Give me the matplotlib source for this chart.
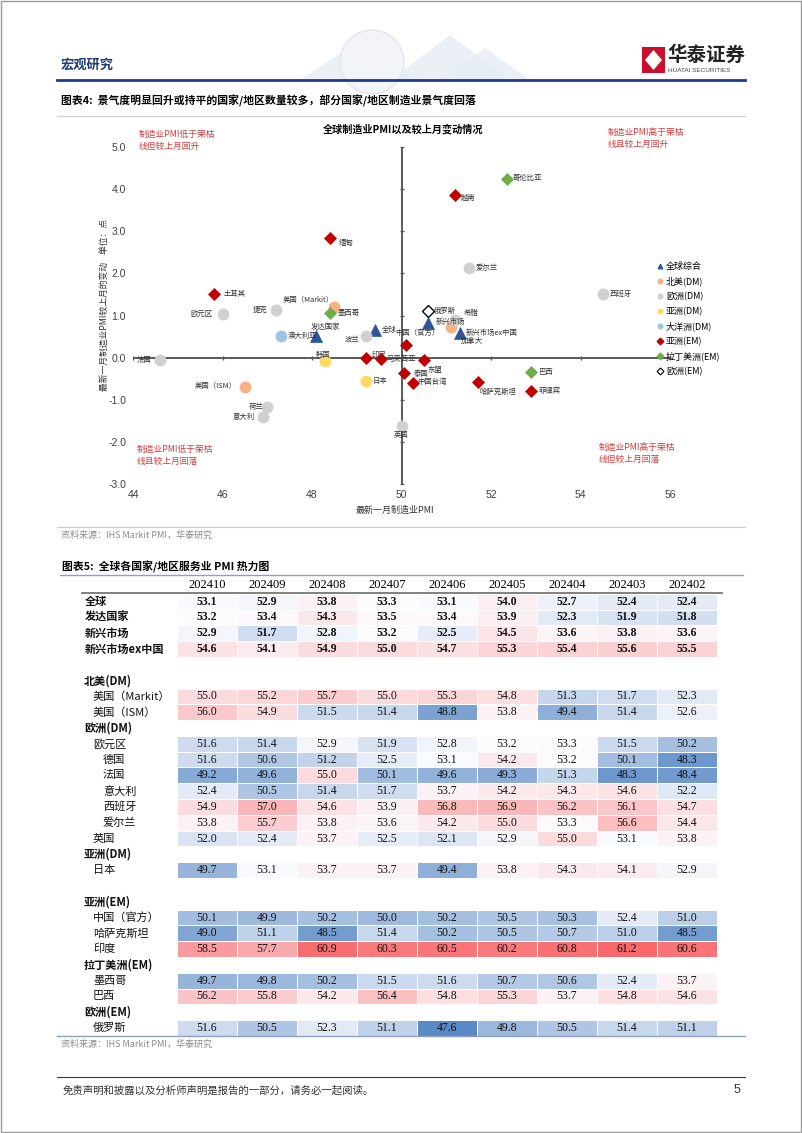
import numpy as np
import matplotlib
matplotlib.use('Agg')
import matplotlib.pyplot as plt
from matplotlib.colors import LinearSegmentedColormap, TwoSlopeNorm
from matplotlib.lines import Line2D
from matplotlib.patches import Rectangle, Polygon, Ellipse

plt.rcParams['font.family'] = ['Noto Sans CJK SC', 'DejaVu Sans']

# ---------------- scatter data (latest PMI, change vs last month) ----------------
global_names = ['全球', '发达国家', '新兴市场', '新兴市场ex中国']
global_x = [49.4, 48.1, 50.6, 51.3]
global_y = [0.66, 0.51, 0.83, 0.59]

na_names = ['美国（Markit）', '美国（ISM）', '加拿大']
na_x = [48.5, 46.5, 51.1]
na_y = [1.21, -0.70, 0.73]

eu_dm_names = ['欧元区', '捷克', '波兰', '爱尔兰', '西班牙', '法国', '荷兰', '意大利', '英国', '希腊']
eu_dm_x = [46.0, 47.2, 49.2, 51.5, 54.5, 44.6, 47.0, 46.9, 50.0, 51.2]
eu_dm_y = [1.03, 1.13, 0.51, 2.13, 1.51, -0.05, -1.18, -1.40, -1.62, 0.89]

asia_dm_names = ['日本', '韩国']
asia_dm_x = [49.2, 48.3]
asia_dm_y = [-0.55, -0.08]

oc_names = ['澳大利亚']
oc_x = [47.3]
oc_y = [0.51]

asia_em_names = ['土耳其', '缅甸', '越南', '中国（官方）', '印尼', '马来西亚', '泰国', '东盟',
                 '中国台湾', '哈萨克斯坦', '菲律宾']
asia_em_x = [45.8, 48.4, 51.2, 50.1, 49.2, 49.55, 50.05, 50.5, 50.25, 51.7, 52.9]
asia_em_y = [1.50, 2.83, 3.85, 0.30, 0.0, -0.03, -0.37, -0.05, -0.61, -0.59, -0.79]

latam_names = ['哥伦比亚', '墨西哥', '巴西']
latam_x = [52.35, 48.4, 52.9]
latam_y = [4.25, 1.07, -0.33]

eu_em_names = ['俄罗斯']
eu_em_x = [50.6]
eu_em_y = [1.11]

x_ticks = [44, 46, 48, 50, 52, 54, 56]
y_ticks = [-3, -2, -1, 0, 1, 2, 3, 4, 5]

# ---------------- heat map data (services PMI) ----------------
months = ['202410', '202409', '202408', '202407', '202406', '202405', '202404', '202403', '202402']
row_labels = ['全球', '发达国家', '新兴市场', '新兴市场ex中国', '',
              '北美(DM)', '美国（Markit）', '美国（ISM）',
              '欧洲(DM)', '欧元区', '德国', '法国', '意大利', '西班牙', '爱尔兰', '英国',
              '亚洲(DM)', '日本', '',
              '亚洲(EM)', '中国（官方）', '哈萨克斯坦', '印度',
              '拉丁美洲(EM)', '墨西哥', '巴西',
              '欧洲(EM)', '俄罗斯']
row_kind = ['top', 'top', 'top', 'top', 'blank',
            'sec', 'sub', 'sub',
            'sec', 'sub', 'sub2', 'sub2', 'sub2', 'sub2', 'sub2', 'sub',
            'sec', 'sub', 'blank',
            'sec', 'sub', 'sub', 'sub',
            'sec', 'sub', 'sub',
            'sec', 'sub']

pmi = {
    '全球':         [53.1, 52.9, 53.8, 53.3, 53.1, 54.0, 52.7, 52.4, 52.4],
    '发达国家':     [53.2, 53.4, 54.3, 53.5, 53.4, 53.9, 52.3, 51.9, 51.8],
    '新兴市场':     [52.9, 51.7, 52.8, 53.2, 52.5, 54.5, 53.6, 53.8, 53.6],
    '新兴市场ex中国': [54.6, 54.1, 54.9, 55.0, 54.7, 55.3, 55.4, 55.6, 55.5],
    '美国（Markit）': [55.0, 55.2, 55.7, 55.0, 55.3, 54.8, 51.3, 51.7, 52.3],
    '美国（ISM）':  [56.0, 54.9, 51.5, 51.4, 48.8, 53.8, 49.4, 51.4, 52.6],
    '欧元区':       [51.6, 51.4, 52.9, 51.9, 52.8, 53.2, 53.3, 51.5, 50.2],
    '德国':         [51.6, 50.6, 51.2, 52.5, 53.1, 54.2, 53.2, 50.1, 48.3],
    '法国':         [49.2, 49.6, 55.0, 50.1, 49.6, 49.3, 51.3, 48.3, 48.4],
    '意大利':       [52.4, 50.5, 51.4, 51.7, 53.7, 54.2, 54.3, 54.6, 52.2],
    '西班牙':       [54.9, 57.0, 54.6, 53.9, 56.8, 56.9, 56.2, 56.1, 54.7],
    '爱尔兰':       [53.8, 55.7, 53.8, 53.6, 54.2, 55.0, 53.3, 56.6, 54.4],
    '英国':         [52.0, 52.4, 53.7, 52.5, 52.1, 52.9, 55.0, 53.1, 53.8],
    '日本':         [49.7, 53.1, 53.7, 53.7, 49.4, 53.8, 54.3, 54.1, 52.9],
    '中国（官方）': [50.1, 49.9, 50.2, 50.0, 50.2, 50.5, 50.3, 52.4, 51.0],
    '哈萨克斯坦':   [49.0, 51.1, 48.5, 51.4, 50.2, 50.5, 50.7, 51.0, 48.5],
    '印度':         [58.5, 57.7, 60.9, 60.3, 60.5, 60.2, 60.8, 61.2, 60.6],
    '墨西哥':       [49.7, 49.8, 50.2, 51.5, 51.6, 50.7, 50.6, 52.4, 53.7],
    '巴西':         [56.2, 55.8, 54.2, 56.4, 54.8, 55.3, 53.7, 54.8, 54.6],
    '俄罗斯':       [51.6, 50.5, 52.3, 51.1, 47.6, 49.8, 50.5, 51.4, 51.1],
}

# ---------------- page helpers ----------------
W, H = 802, 1133
fig = plt.figure(figsize=(W / 100, H / 100), dpi=100)
fig.patch.set_facecolor('white')


def ftext(x, y, s, **kw):
    fig.text(x / W, 1 - y / H, s, **kw)


def hline(y, x0, x1, color, lw):
    fig.add_artist(Line2D([x0 / W, x1 / W], [1 - y / H, 1 - y / H],
                          color=color, lw=lw, transform=fig.transFigure))


# page border
fig.add_artist(Rectangle((0.001, 0.001), 0.998, 0.998, transform=fig.transFigure,
                         fill=False, ec='#9a9a9a', lw=1))

# faint watermark in header
for pts in ([(300, 80), (360, 40), (420, 80)], [(390, 80), (450, 35), (510, 80)],
            [(440, 80), (485, 48), (530, 80)]):
    fig.add_artist(Polygon([(x / W, 1 - y / H) for x, y in pts], closed=True,
                           transform=fig.transFigure, fc='#e6edf5', ec='none', alpha=0.8))
fig.add_artist(Ellipse((372 / W, 1 - 62 / H), 64 / W, 64 / H, transform=fig.transFigure,
                       fc='#f2f4f7', ec='#e1e6ec', lw=1.0))

# header
ftext(61, 65, '宏观研究', fontsize=9.5, fontweight='bold', color='#1f3c78', va='center')
fig.add_artist(Rectangle((642 / W, 1 - 73 / H), 23 / W, 26 / H, transform=fig.transFigure,
                         fc='#c8102e', ec='none'))
fig.add_artist(Polygon([(653.5 / W, 1 - 50 / H), (662 / W, 1 - 60 / H), (653.5 / W, 1 - 70 / H),
                        (645 / W, 1 - 60 / H)], closed=True, transform=fig.transFigure,
                       fc='white', ec='none'))
ftext(667, 55, '华泰证券', fontsize=14, fontweight='bold', color='#222222', va='center')
ftext(668, 71, 'HUATAI SECURITIES', fontsize=4.6, color='#444444', va='center',
      family='Liberation Sans')
hline(80, 57, 745, '#1f3c88', 2)

# ---------------- chart 4 : scatter ----------------
ftext(61, 101, '图表4:  景气度明显回升或持平的国家/地区数量较多，部分国家/地区制造业景气度回落',
      fontsize=7.8, fontweight='bold', va='center')
hline(116, 57, 745, '#c8ccd4', 0.8)

ax = fig.add_axes([133 / W, 1 - 484 / H, 537 / W, 337 / H])
ax.set_xlim(44, 56)
ax.set_ylim(-3, 5)
for s in ax.spines.values():
    s.set_visible(False)
ax.axhline(0, color='#595959', lw=1.4, zorder=1)
ax.axvline(50, color='#595959', lw=1.4, zorder=1)
ax.plot(x_ticks, [0] * len(x_ticks), ls='none', marker='|', ms=3, color='#595959', zorder=1)
ax.plot([50] * len(y_ticks), y_ticks, ls='none', marker='_', ms=3, color='#595959', zorder=1)
ax.set_xticks(x_ticks)
ax.set_xticklabels([str(t) for t in x_ticks], family='Liberation Sans')
ax.set_yticks(y_ticks)
ax.set_yticklabels(['%.1f' % t for t in y_ticks], family='Liberation Sans')
ax.tick_params(length=0, labelsize=7.5, colors='#404040')
ax.tick_params(axis='x', pad=4)
ax.tick_params(axis='y', pad=5)

groups = [
    ('全球综合', global_names, global_x, global_y, '^', '#2f5597', '#2f5597', 8),
    ('北美(DM)', na_names, na_x, na_y, 'o', '#f4b183', '#f4b183', 8),
    ('欧洲(DM)', eu_dm_names, eu_dm_x, eu_dm_y, 'o', '#d0d0d0', '#d0d0d0', 8),
    ('亚洲(DM)', asia_dm_names, asia_dm_x, asia_dm_y, 'o', '#ffd966', '#ffd966', 8),
    ('大洋洲(DM)', oc_names, oc_x, oc_y, 'o', '#9dc3e6', '#9dc3e6', 8),
    ('亚洲(EM)', asia_em_names, asia_em_x, asia_em_y, 'D', '#c00000', '#c00000', 6.5),
    ('拉丁美洲(EM)', latam_names, latam_x, latam_y, 'D', '#70ad47', '#70ad47', 6.5),
    ('欧洲(EM)', eu_em_names, eu_em_x, eu_em_y, 'D', 'white', 'black', 6),
]

# label placement: offset in pixels and alignment
lab_pos = {
    '全球': (7, 0, 'left'), '发达国家': (9, 9, 'center'), '新兴市场': (7, 1, 'left'),
    '新兴市场ex中国': (6, 0, 'left'),
    '美国（Markit）': (-1, 7, 'right'), '美国（ISM）': (-8, 1, 'right'), '加拿大': (10, -14, 'left'),
    '欧元区': (-10, 0, 'right'), '捷克': (-9, 0, 'right'), '波兰': (-6, -3, 'right'),
    '爱尔兰': (7, 0, 'left'), '西班牙': (7, 0, 'left'), '法国': (-8, 0, 'right'),
    '荷兰': (-4, 0, 'right'), '意大利': (-8, 0, 'right'), '英国': (0, -9, 'center'),
    '希腊': (9, 7, 'left'),
    '日本': (7, 0, 'left'), '韩国': (-2, 6, 'center'),
    '澳大利亚': (7, 0, 'left'),
    '土耳其': (10, 0, 'left'), '缅甸': (9, -5, 'left'), '越南': (6, -2, 'left'),
    '中国（官方）': (11, 12, 'center'), '印尼': (6, 3, 'left'), '马来西亚': (5, 0, 'left'),
    '泰国': (10, -1, 'left'), '东盟': (4, -10, 'left'), '中国台湾': (5, 1, 'left'),
    '哈萨克斯坦': (2, -9, 'left'), '菲律宾': (7, 0, 'left'),
    '哥伦比亚': (6, 1, 'left'), '墨西哥': (8, 0, 'left'), '巴西': (7, 0, 'left'),
    '俄罗斯': (6, 0, 'left'),
}

handles = []
for gname, names, xs, ys, mk, fc, ec, ms in groups:
    ax.plot(xs, ys, ls='none', marker=mk, ms=ms, mfc=fc, mec=ec, mew=1.0 if fc == 'white' else 0.5,
            zorder=3)
    handles.append(Line2D([], [], ls='none', marker=mk, ms=3.5, mfc=fc, mec=ec, mew=0.8))
    for n, x, y in zip(names, xs, ys):
        dx, dy, ha = lab_pos[n]
        ax.annotate(n, (x, y), xytext=(dx, dy), textcoords='offset pixels', ha=ha, va='center',
                    fontsize=5.3, color='#333333', zorder=4)

ax.legend(handles, [g[0] for g in groups], loc='upper left', bbox_to_anchor=(657 / W, 1 - 262 / H),
          bbox_transform=fig.transFigure, frameon=False, fontsize=6.5, handlelength=0.6,
          handletextpad=0.4, labelspacing=0.62, borderpad=0, borderaxespad=0)

ftext(403, 129, '全球制造业PMI以及较上月变动情况', fontsize=7.3, fontweight='bold', ha='center',
      va='center')
ftext(395, 510, '最新一月制造业PMI', fontsize=6.5, ha='center', va='center', color='#333333')
ftext(104, 305, '最新一月制造业PMI较上月的变动    单位：点', fontsize=6.3, rotation=90,
      ha='center', va='center', color='#333333')

red = '#d63a3a'
for (x, y), s in zip([(139, 135), (608, 133), (137, 450), (599, 448)],
                     ['制造业PMI低于荣枯\n线但较上月回升', '制造业PMI高于荣枯\n线且较上月回升',
                      '制造业PMI低于荣枯\n线且较上月回落', '制造业PMI高于荣枯\n线但较上月回落']):
    ftext(x, y - 5, s, fontsize=6.3, color=red, va='top', linespacing=1.45)

hline(527, 57, 745, '#c8ccd4', 0.8)
ftext(61, 535, '资料来源：IHS Markit PMI，华泰研究', fontsize=6.5, color='#8c8c8c', va='center')

# ---------------- chart 5 : heat map ----------------
ftext(62, 567, '图表5:  全球各国家/地区服务业 PMI 热力图', fontsize=7.8, fontweight='bold',
      va='center')
hline(575, 60, 743, '#8fa0bd', 1.0)

row_h = 15.79
top_px = 601.7 - row_h / 2
col_w = 60.0
left_px = 177
nrow = len(row_labels)
tax = fig.add_axes([left_px / W, 1 - (top_px + nrow * row_h) / H, 9 * col_w / W, nrow * row_h / H])
tax.set_xlim(0, 9)
tax.set_ylim(nrow, 0)
tax.axis('off')

mat = np.full((nrow, 9), np.nan)
for i, lab in enumerate(row_labels):
    if lab in pmi:
        mat[i] = pmi[lab]

cmap = LinearSegmentedColormap.from_list('rwb', ['#5A8AC6', '#FCFCFF', '#F8696B'])
norm = TwoSlopeNorm(vmin=47.6, vcenter=53.2, vmax=61.2)
tax.pcolormesh(np.arange(10), np.arange(nrow + 1), np.ma.masked_invalid(mat), cmap=cmap, norm=norm,
               edgecolors='white', linewidth=0.6)

for j, m in enumerate(months):
    tax.text(j + 0.5, -0.55, m, ha='center', va='center', fontsize=9, family='Liberation Serif',
             clip_on=False)
hline(593, 82, 722, '#6b6b6b', 1.2)

indent = {'top': 85, 'sec': 84, 'sub': 93, 'sub2': 103}
for i, (lab, kind) in enumerate(zip(row_labels, row_kind)):
    if kind == 'blank':
        continue
    bold = kind in ('top', 'sec')
    tax.text((indent[kind] - left_px) / col_w, i + 0.5, lab, ha='left', va='center', fontsize=8,
             fontweight='bold' if bold else 'normal', color='#111111', clip_on=False)
    if lab in pmi:
        for j, v in enumerate(pmi[lab]):
            tax.text(j + 0.5, i + 0.5, '%.1f' % v, ha='center', va='center', fontsize=8.5,
                     family='Liberation Serif', fontweight='bold' if kind == 'top' else 'normal',
                     color='#111111')

hline(1036, 57, 745, '#8fa0bd', 1.0)
ftext(61, 1044, '资料来源：IHS Markit PMI，华泰研究', fontsize=6.5, color='#8c8c8c', va='center')

# footer
hline(1077, 57, 745, '#1f3c88', 0.8)
ftext(63, 1090, '免责声明和披露以及分析师声明是报告的一部分，请务必一起阅读。', fontsize=7.5,
      color='#333333', va='center')
ftext(740, 1090, '5', fontsize=9, color='#333333', va='center', ha='right', family='Liberation Sans')

fig.savefig('out.png', dpi=100)
